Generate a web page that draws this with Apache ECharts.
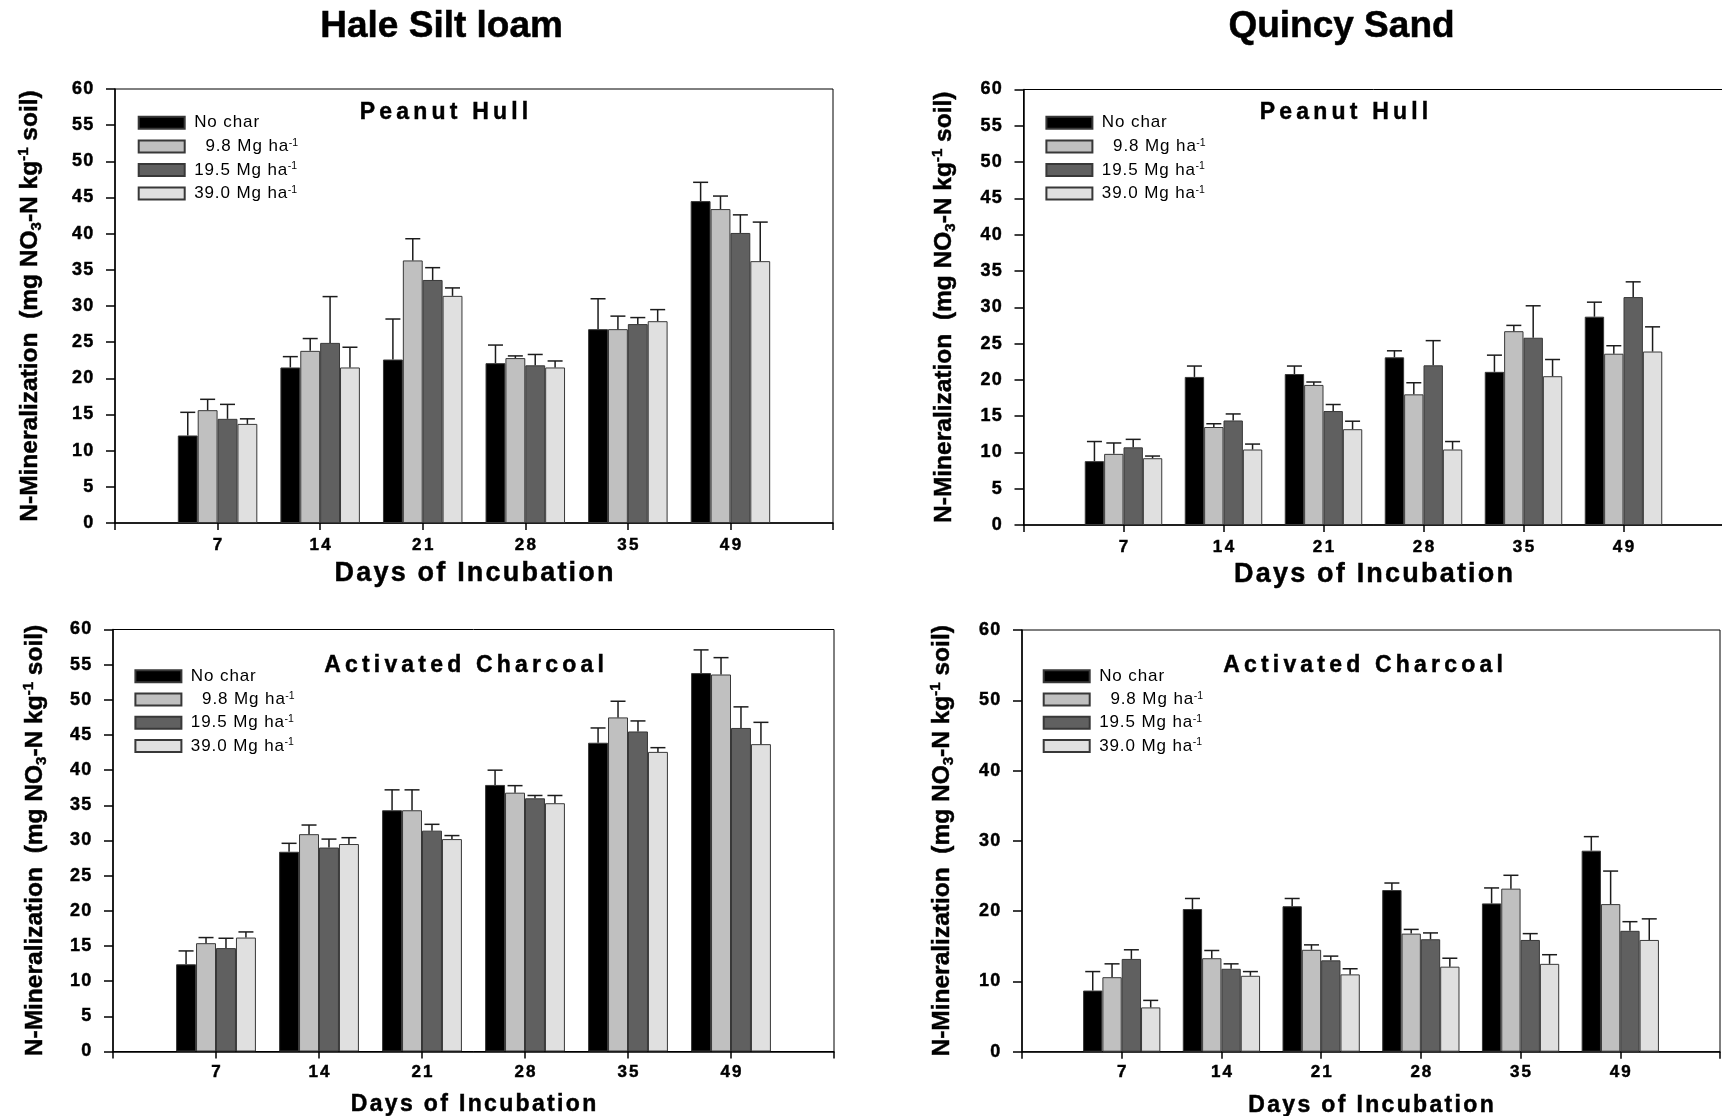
<!DOCTYPE html>
<html>
<head>
<meta charset="utf-8">
<script src="https://cdn.jsdelivr.net/npm/echarts@6/dist/echarts.min.js"></script>
<style>
  html, body { margin: 0; padding: 0; background: #ffffff; }
  #chart { width: 1722px; height: 1116px; }
</style>
</head>
<body>
<div id="chart"></div>
<script>
// ---- categories and treatments ----
const days = ['7', '14', '21', '28', '35', '49'];
const treatments = ['No char', '9.8 Mg ha-1', '19.5 Mg ha-1', '39.0 Mg ha-1'];

// ---- Hale silt loam, peanut hull char: means and standard errors ----
const haleHullNoChar   = [12.1, 21.5, 22.6, 22.1, 26.8, 44.5];
const haleHull98       = [15.6, 23.8, 36.3, 22.8, 26.8, 43.4];
const haleHull195      = [14.4, 24.9, 33.6, 21.8, 27.5, 40.1];
const haleHull390      = [13.7, 21.5, 31.4, 21.5, 27.9, 36.2];
const haleHullNoCharSE = [3.2, 1.5, 5.6, 2.5, 4.2, 2.6];
const haleHull98SE     = [1.5, 1.7, 3.0, 0.3, 1.8, 1.8];
const haleHull195SE    = [2.0, 6.4, 1.7, 1.5, 0.9, 2.5];
const haleHull390SE    = [0.7, 2.8, 1.1, 0.9, 1.6, 5.4];

// ---- Quincy sand, peanut hull char ----
const quincyHullNoChar   = [8.8, 20.4, 20.8, 23.1, 21.1, 28.7];
const quincyHull98       = [9.8, 13.5, 19.3, 18.0, 26.7, 23.6];
const quincyHull195      = [10.7, 14.4, 15.7, 22.0, 25.8, 31.4];
const quincyHull390      = [9.2, 10.4, 13.2, 10.4, 20.5, 23.9];
const quincyHullNoCharSE = [2.7, 1.5, 1.1, 0.9, 2.3, 2.0];
const quincyHull98SE     = [1.5, 0.45, 0.4, 1.6, 0.8, 1.1];
const quincyHull195SE    = [1.1, 0.9, 0.9, 3.4, 4.4, 2.1];
const quincyHull390SE    = [0.3, 0.75, 1.1, 1.1, 2.3, 3.4];

// ---- Hale silt loam, activated charcoal ----
const haleActNoChar   = [12.4, 28.4, 34.3, 37.9, 43.9, 53.8];
const haleAct98       = [15.4, 30.9, 34.3, 36.8, 47.5, 53.6];
const haleAct195      = [14.7, 29.0, 31.4, 36.0, 45.5, 46.0];
const haleAct390      = [16.2, 29.5, 30.2, 35.3, 42.6, 43.7];
const haleActNoCharSE = [1.9, 1.2, 2.9, 2.1, 2.1, 3.3];
const haleAct98SE     = [0.8, 1.3, 2.9, 1.0, 2.3, 2.4];
const haleAct195SE    = [1.4, 1.2, 0.9, 0.4, 1.5, 3.0];
const haleAct390SE    = [0.8, 0.9, 0.5, 1.1, 0.6, 3.1];

// ---- Quincy sand, activated charcoal ----
const quincyActNoChar   = [8.7, 20.3, 20.7, 23.0, 21.1, 28.6];
const quincyAct98       = [10.6, 13.3, 14.5, 16.8, 23.2, 21.0];
const quincyAct195      = [13.2, 11.8, 13.0, 16.0, 15.9, 17.2];
const quincyAct390      = [6.3, 10.8, 11.0, 12.1, 12.5, 15.9];
const quincyActNoCharSE = [2.7, 1.5, 1.1, 1.0, 2.2, 2.0];
const quincyAct98SE     = [1.9, 1.1, 0.7, 0.6, 1.9, 4.7];
const quincyAct195SE    = [1.3, 0.7, 0.6, 0.9, 0.9, 1.3];
const quincyAct390SE    = [1.0, 0.6, 0.8, 1.2, 1.3, 3.0];

// ---- styling ----
const FONT = '"Liberation Sans", Arial, Helvetica, sans-serif';
const FILLS = ['#000000', '#c0c0c0', '#606060', '#e0e0e0'];
const CAT_GAP = 0.225;
const HEAVY = { textBorderColor: '#000', textBorderWidth: 0.45 };

// Wrap every character in its own rich token so letter spacing can be set via padding.
function spaced(text, style) {
  return text.split('').map(c => '{' + style + '|' + c + '}').join('');
}
function spacedStyle(size, pad, lineHeight, weight) {
  const st = {
    fontFamily: FONT, fontSize: size, fontWeight: weight || 'bold', color: '#000',
    padding: [0, pad, 0, pad], lineHeight: lineHeight
  };
  return weight === 'normal' ? st : Object.assign(st, HEAVY);
}

const panels = [
  {
    grid: { left: 115, top: 89, width: 718, height: 434 },
    means: [haleHullNoChar, haleHull98, haleHull195, haleHull390],
    errs: [haleHullNoCharSE, haleHull98SE, haleHull195SE, haleHull390SE],
    yInterval: 5, yNameGap: 71,
    xLabelMargin: 13.5, xLabelPad: 1.2, xNameSize: 27, xNamePad: 1.1, xNameGap: 35,
    legendLeft: 137.7, legendTop: 114.3, legendGap: 6.1,
    title: 'Peanut Hull', titleAt: [444, 113]
  },
  {
    grid: { left: 1023.5, top: 89.5, width: 700, height: 435.5 },
    means: [quincyHullNoChar, quincyHull98, quincyHull195, quincyHull390],
    errs: [quincyHullNoCharSE, quincyHull98SE, quincyHull195SE, quincyHull390SE],
    yInterval: 5, yNameGap: 65,
    xLabelMargin: 13.5, xLabelPad: 1.2, xNameSize: 27, xNamePad: 1.1, xNameGap: 34.5,
    legendLeft: 1045.4, legendTop: 114.3, legendGap: 6.1,
    title: 'Peanut Hull', titleAt: [1344, 113]
  },
  {
    grid: { left: 113, top: 629.5, width: 721, height: 422 },
    means: [haleActNoChar, haleAct98, haleAct195, haleAct390],
    errs: [haleActNoCharSE, haleAct98SE, haleAct195SE, haleAct390SE],
    yInterval: 5, yNameGap: 64,
    xLabelMargin: 12, xLabelPad: 1.0, xNameSize: 23, xNamePad: 1.17, xNameGap: 40,
    legendLeft: 134.4, legendTop: 667.7, legendGap: 5.8,
    title: 'Activated Charcoal', titleAt: [464, 665.5]
  },
  {
    grid: { left: 1022, top: 630, width: 698, height: 421.7 },
    means: [quincyActNoChar, quincyAct98, quincyAct195, quincyAct390],
    errs: [quincyActNoCharSE, quincyAct98SE, quincyAct195SE, quincyAct390SE],
    yInterval: 10, yNameGap: 66,
    xLabelMargin: 12, xLabelPad: 1.0, xNameSize: 23, xNamePad: 1.17, xNameGap: 40,
    legendLeft: 1042.7, legendTop: 667.7, legendGap: 5.8,
    title: 'Activated Charcoal', titleAt: [1363, 665.5]
  }
];

const yName = '{b|N-Mineralization  (mg NO}{sub|3}{b|-N kg}{sup|-1}{b| soil)}';
const yNameRich = {
  b:   Object.assign({ fontFamily: FONT, fontSize: 24.5, fontWeight: 'bold', color: '#000', lineHeight: 28 }, HEAVY),
  sub: Object.assign({ fontFamily: FONT, fontSize: 15, fontWeight: 'bold', color: '#000', lineHeight: 10, verticalAlign: 'bottom' }, HEAVY),
  sup: Object.assign({ fontFamily: FONT, fontSize: 15, fontWeight: 'bold', color: '#000', lineHeight: 10, verticalAlign: 'top' }, HEAVY)
};

function legendLabel(name) {
  const m = name.match(/^(.*)-1$/);
  if (!m) return spaced(name, 't');
  const lead = m[1].length < 10 ? '  ' : '';
  return spaced(lead + m[1], 't') + '{sup|-1}';
}
const legendRich = {
  t:   spacedStyle(17, 0.45, 18, 'normal'),
  sup: { fontFamily: FONT, fontSize: 10.5, color: '#000', lineHeight: 8, verticalAlign: 'top' }
};

// Panel headings are plain graphic text: outline via stroke / lineWidth
const headingRich = {
  pt: {
    fontFamily: FONT, fontSize: 23, fontWeight: 'bold', fill: '#000',
    padding: [0, 2.1, 0, 2.1], lineHeight: 26, stroke: '#000', lineWidth: 0.45
  }
};

const grids = [], xAxes = [], yAxes = [], series = [], legends = [], graphics = [];

panels.forEach((p, gi) => {
  grids.push(Object.assign({
    show: true, borderColor: '#000', borderWidth: 1, backgroundColor: 'transparent',
    containLabel: false, outerBoundsMode: 'none'
  }, p.grid));

  xAxes.push({
    type: 'category', gridIndex: gi, data: [''].concat(days, ['']), boundaryGap: false,
    axisLine: { show: true, lineStyle: { color: '#000', width: 1.5 } },
    axisTick: { show: true, interval: 0, length: 7, lineStyle: { color: '#000', width: 1.5 } },
    axisLabel: {
      interval: 0, margin: p.xLabelMargin, hideOverlap: false,
      formatter: v => (v ? spaced(v, 'd') : ''),
      rich: { d: spacedStyle(17, p.xLabelPad, 18) }
    },
    splitLine: { show: false },
    name: spaced('Days of Incubation', 'n'), nameLocation: 'middle', nameGap: p.xNameGap,
    nameMoveOverlap: false,
    nameTextStyle: { rich: { n: spacedStyle(p.xNameSize, p.xNamePad, p.xNameSize + 4) } }
  });

  yAxes.push({
    type: 'value', gridIndex: gi, min: 0, max: 60, interval: p.yInterval,
    splitLine: { show: false },
    axisLine: { show: true, lineStyle: { color: '#000', width: 1.5 } },
    axisTick: { show: true, length: 9, lineStyle: { color: '#000', width: 1.5 } },
    axisLabel: {
      margin: 21, hideOverlap: false,
      formatter: v => spaced(String(v), 'y'),
      rich: { y: spacedStyle(18, 0.7, 20) }
    },
    name: yName, nameLocation: 'middle', nameRotate: 90, nameGap: p.yNameGap,
    nameMoveOverlap: false,
    nameTextStyle: { rich: yNameRich }
  });

  // Bars: one series per treatment
  p.means.forEach((vals, s) => {
    series.push({
      type: 'bar', name: treatments[s], xAxisIndex: gi, yAxisIndex: gi,
      data: vals.map((v, i) => [i + 1, v]),
      barGap: '0%', barCategoryGap: (CAT_GAP * 100) + '%',
      itemStyle: { color: FILLS[s], borderColor: '#383838', borderWidth: 1 },
      emphasis: { disabled: true }, z: 2
    });
  });

  // Upper error bars, offset to sit on the matching bar within each day group
  const errData = [];
  p.means.forEach((vals, s) => {
    vals.forEach((m, i) => errData.push([i + 1, m, m + p.errs[s][i], s]));
  });
  series.push({
    type: 'custom', xAxisIndex: gi, yAxisIndex: gi, z: 5,
    encode: { x: 0, y: [1, 2] },
    data: errData,
    renderItem(params, api) {
      const cat = api.value(0);
      const s = api.value(3);
      const base = api.coord([cat, api.value(1)]);
      const top = api.coord([cat, api.value(2)]);
      const band = api.size([1, 0])[0];
      const groupW = band * (1 - CAT_GAP);
      const barW = groupW / 4;
      const cx = base[0] - groupW / 2 + barW * (s + 0.5);
      const half = 7.5;
      const ls = { stroke: '#1c1c1c', lineWidth: 1.5 };
      return {
        type: 'group',
        children: [
          { type: 'line', shape: { x1: cx, y1: base[1], x2: cx, y2: top[1] }, style: ls },
          { type: 'line', shape: { x1: cx - half, y1: top[1], x2: cx + half, y2: top[1] }, style: ls }
        ]
      };
    }
  });

  legends.push({
    orient: 'vertical', left: p.legendLeft, top: p.legendTop, padding: 0,
    itemWidth: 46, itemHeight: 12, itemGap: p.legendGap, icon: 'rect',
    selectedMode: false, data: treatments,
    formatter: legendLabel,
    textStyle: { color: '#000', padding: [0, 0, 0, 4], rich: legendRich }
  });

  graphics.push({
    type: 'text', x: p.titleAt[0], y: p.titleAt[1], z: 10,
    style: {
      legacy: false,
      text: spaced(p.title, 'pt'),
      rich: headingRich,
      align: 'center', verticalAlign: 'middle', fill: '#000'
    }
  });
});

graphics.push(
  { type: 'text', x: 441.6, y: 27, style: { legacy: false, text: 'Hale Silt loam', font: 'bold 37px ' + FONT, align: 'center', verticalAlign: 'middle', fill: '#000', stroke: '#000', lineWidth: 0.5 } },
  { type: 'text', x: 1341.5, y: 27, style: { legacy: false, text: 'Quincy Sand', font: 'bold 37px ' + FONT, align: 'center', verticalAlign: 'middle', fill: '#000', stroke: '#000', lineWidth: 0.5 } }
);

const chart = echarts.init(document.getElementById('chart'), null, { renderer: 'canvas' });
chart.setOption({
  backgroundColor: '#ffffff',
  animation: false,
  tooltip: { show: false },
  grid: grids,
  xAxis: xAxes,
  yAxis: yAxes,
  legend: legends,
  series: series,
  graphic: graphics
});
</script>
</body>
</html>
